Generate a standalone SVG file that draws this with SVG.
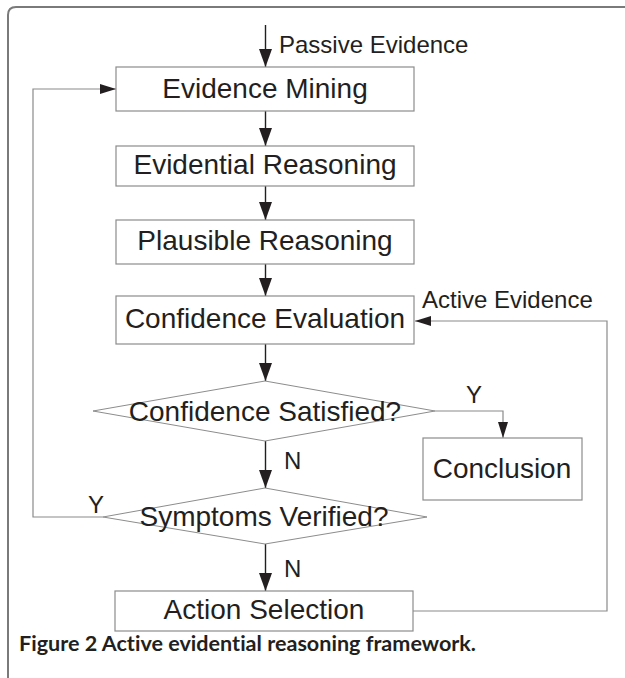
<svg xmlns="http://www.w3.org/2000/svg" width="625" height="678" viewBox="0 0 625 678">
<style>
.bg{fill:#ffffff}
.frame{fill:none;stroke:#7a7a7a;stroke-width:2}
.box{fill:#ffffff;stroke:#8c8c8c;stroke-width:1.2}
.dia{fill:#ffffff;stroke:#8c8c8c;stroke-width:1}
.t{font-family:"Liberation Sans",Arial,sans-serif;font-size:28px;fill:#231f20;text-anchor:middle}
.lbl{font-family:"Liberation Sans",Arial,sans-serif;font-size:24px;fill:#231f20}
.main{fill:none;stroke:#231f20;stroke-width:1.4}
.side{fill:none;stroke:#8a8a8a;stroke-width:1.2}
.cap{font-family:Lato,"Open Sans",sans-serif;font-size:20px;font-weight:700;fill:#231f20;font-variant-ligatures:none}
</style>
<defs>
<marker id="big" markerUnits="userSpaceOnUse" markerWidth="20" markerHeight="14" refX="18" refY="6.5" orient="auto">
<path d="M0,0 L18,6.5 L0,13 Z" fill="#231f20"/>
</marker>
<marker id="small" markerUnits="userSpaceOnUse" markerWidth="18" markerHeight="12" refX="16" refY="5" orient="auto">
<path d="M0,0 L16,5 L0,10 Z" fill="#231f20"/>
</marker>
</defs>
<rect class="bg" x="0" y="0" width="625" height="678"/>
<path class="frame" d="M8,678 V15 Q8,7 16,7 H625"/>

<g id="connectors">
<line class="main" x1="265.5" y1="25" x2="265.5" y2="67" marker-end="url(#big)"/>
<line class="main" x1="265.5" y1="111" x2="265.5" y2="146" marker-end="url(#big)"/>
<line class="main" x1="265.5" y1="186" x2="265.5" y2="220" marker-end="url(#big)"/>
<line class="main" x1="265.5" y1="264" x2="265.5" y2="296" marker-end="url(#big)"/>
<line class="main" x1="265.5" y1="344" x2="265.5" y2="381" marker-end="url(#big)"/>
<line class="main" x1="265.5" y1="441" x2="265.5" y2="488" marker-end="url(#big)"/>
<line class="main" x1="265.5" y1="544" x2="265.5" y2="591" marker-end="url(#big)"/>
<polyline class="side" points="435,411 503,411 503,438" marker-end="url(#small)"/>
<polyline class="side" points="103,517 33,517 33,89 116,89" marker-end="url(#small)"/>
<polyline class="side" points="413,611 607,611 607,321 415,321" marker-end="url(#small)"/>
<text class="lbl" x="279" y="53">Passive Evidence</text>
<text class="lbl" x="422" y="308">Active Evidence</text>
<text class="lbl" x="466" y="403">Y</text>
<text class="lbl" x="88" y="513">Y</text>
<text class="lbl" x="284" y="469">N</text>
<text class="lbl" x="284" y="577">N</text>
</g>

<g id="evidence-mining">
<rect class="box" x="116" y="67" width="298" height="44"/>
<text class="t" x="265" y="98">Evidence Mining</text>
</g>
<g id="evidential-reasoning">
<rect class="box" x="116" y="146" width="298" height="40"/>
<text class="t" x="265" y="174">Evidential Reasoning</text>
</g>
<g id="plausible-reasoning">
<rect class="box" x="116" y="220" width="298" height="44"/>
<text class="t" x="265" y="250">Plausible Reasoning</text>
</g>
<g id="confidence-evaluation">
<rect class="box" x="116" y="296" width="298" height="48"/>
<text class="t" x="265" y="328">Confidence Evaluation</text>
</g>
<g id="confidence-satisfied">
<polygon class="dia" points="265,381 435,411 265,441 93,411"/>
<text class="t" x="265" y="421">Confidence Satisfied?</text>
</g>
<g id="conclusion">
<rect class="box" x="423" y="438" width="159" height="62"/>
<text class="t" x="502" y="478">Conclusion</text>
</g>
<g id="symptoms-verified">
<polygon class="dia" points="265,488 427,517 265,544 103,517"/>
<text class="t" x="264" y="526">Symptoms Verified?</text>
</g>
<g id="action-selection">
<rect class="box" x="115" y="591" width="298" height="40"/>
<text class="t" x="264" y="619">Action Selection</text>
</g>
<text class="cap" x="19" y="651" textLength="457" lengthAdjust="spacingAndGlyphs">Figure 2 Active evidential reasoning framework.</text>
</svg>
